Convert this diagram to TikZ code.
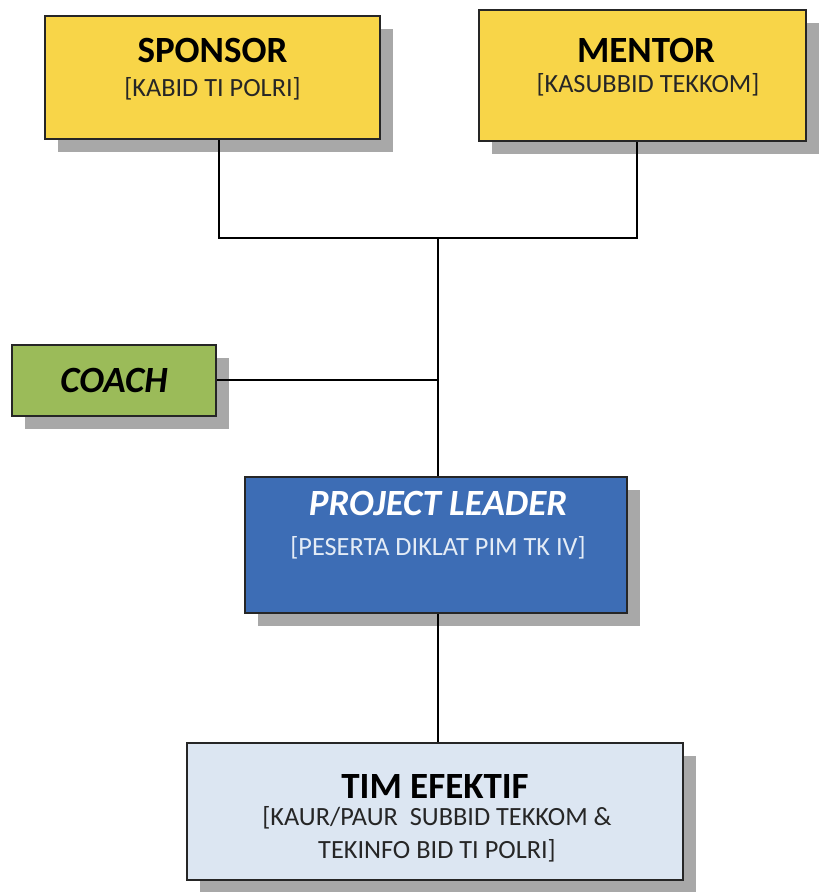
\documentclass[tikz,border=0pt]{standalone}
\usepackage{fontspec}
\setmainfont{Carlito}
\usetikzlibrary{shadows}
\definecolor{ygold}{HTML}{F8D548}
\definecolor{cgreen}{HTML}{9BBB59}
\definecolor{pblue}{HTML}{3D6DB5}
\definecolor{tlight}{HTML}{DCE6F2}
\definecolor{shd}{HTML}{A8A8A8}
\definecolor{subwhite}{HTML}{E4ECF6}
\begin{document}
\begin{tikzpicture}[x=1pt,y=-1pt,
 box/.style={draw=black!85, line width=2pt, inner sep=0pt,
   drop shadow={shadow xshift=13pt, shadow yshift=-13pt, fill=shd, opacity=1}},
 title/.style={font=\fontsize{37}{40}\selectfont\bfseries, anchor=base, inner sep=0pt},
 sub/.style={font=\fontsize{26.3}{30}\selectfont, anchor=base, inner sep=0pt, text=black!85},
 conn/.style={draw=black, line width=1.8pt}]
\useasboundingbox (0,0) rectangle (822,892);
% boxes
\node[box, fill=ygold, minimum width=335pt, minimum height=123pt] (sponsor) at (212.5,77.5) {};
\node[box, fill=ygold, minimum width=327pt, minimum height=131pt] (mentor) at (642.5,75.5) {};
\node[box, fill=cgreen, minimum width=204pt, minimum height=71pt] (coach) at (114,380) {};
\node[box, fill=pblue, minimum width=382pt, minimum height=136pt] (pl) at (436,545) {};
\node[box, fill=tlight, minimum width=496pt, minimum height=137pt] (tim) at (435,811.5) {};
% texts
\node[title] (sponsorT) at (212.5,62) {SPONSOR};
\node[sub] (sponsorS) at (212.5,96) {[KABID TI POLRI]};
\node[title] (mentorT) at (646,62) {MENTOR};
\node[sub] (mentorS) at (648,92) {[KASUBBID TEKKOM]};
\node[title, font=\fontsize{37}{40}\selectfont\bfseries\itshape] (coachT) at (114,392) {COACH};
\node[title, text=white, font=\fontsize{37}{40}\selectfont\bfseries\itshape] (plT) at (438,515) {PROJECT LEADER};
\node[sub, text=subwhite] (plS) at (438,555) {[PESERTA DIKLAT PIM TK IV]};
\node[title] (timT) at (435,798) {TIM EFEKTIF};
\node[sub] (timS1) at (437,825) {[KAUR/PAUR\ \ SUBBID TEKKOM \&};
\node[sub] (timS2) at (437,858) {TEKINFO BID TI POLRI]};
% connectors
\coordinate (sx) at (219,0);
\coordinate (mx) at (637,0);
\coordinate (jx) at (438,238);
\draw[conn] (sponsor.south -| sx) -- (sx |- jx) -- (mx |- jx) -- (mentor.south -| mx);
\draw[conn] (jx) -- (pl.north -| jx);
\draw[conn] (coach.east) -- (coach.east -| jx);
\draw[conn] (pl.south -| jx) -- (tim.north -| jx);
\end{tikzpicture}
\end{document}
